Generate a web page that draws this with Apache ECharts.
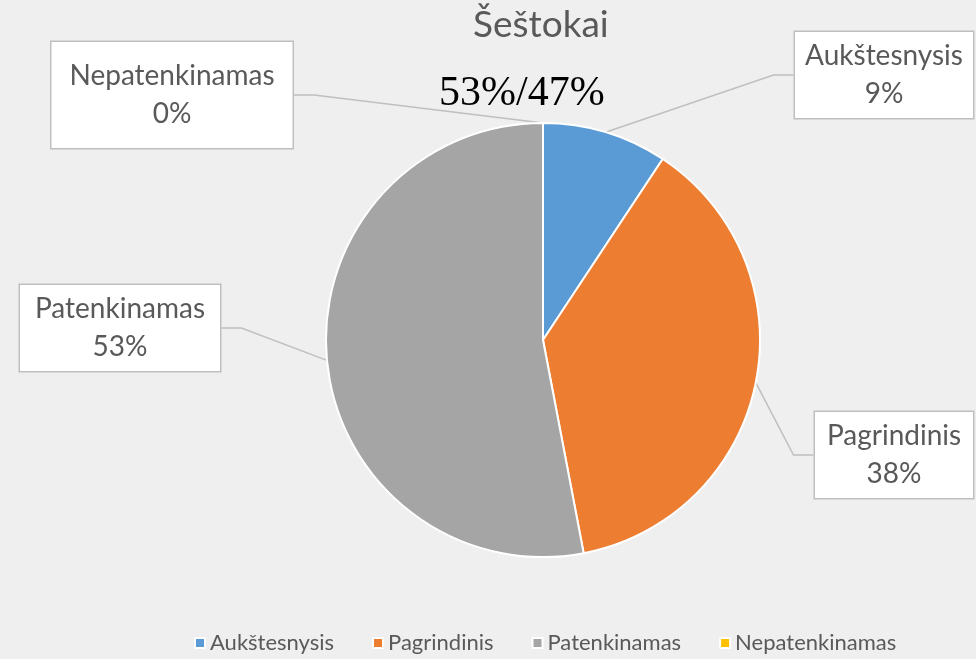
<!DOCTYPE html>
<html lang="lt">
<head>
<meta charset="UTF-8" />
<title>Šeštokai</title>
<style>
  html, body { margin: 0; padding: 0; background: #efefef; }
  #chart { width: 976px; height: 659px; }
</style>
</head>
<body>
<div id="chart"></div>
<script src="https://cdn.jsdelivr.net/npm/echarts@6/dist/echarts.min.js"></script>
<script>
// duomenys
var categories = ['Aukštesnysis', 'Pagrindinis', 'Patenkinamas', 'Nepatenkinamas'];
var values = [9.3, 37.7, 53.0, 0];
var colors = ['#5b9bd5', '#ed7d31', '#a5a5a5', '#ffc000'];
var titleText = 'Šeštokai';
var subText = '53%/47%';

// label boxes: [center x, center y, width, vertical padding]
var boxes = [
  [884, 75, 178, 5],
  [894, 455, 158, 5],
  [120, 328, 200, 5],
  [172, 95, 241, 15]
];

var chart = echarts.init(document.getElementById('chart'));

var pieData = categories.map(function (name, i) {
  return {
    name: name,
    value: values[i],
    itemStyle: { color: colors[i] },
    label: { width: boxes[i][2], padding: [boxes[i][3], 0] }
  };
});

chart.setOption({
  backgroundColor: '#efefef',
  textStyle: { fontFamily: 'Lato' },
  title: [
    {
      text: titleText,
      left: 468, top: 2,
      textStyle: { fontFamily: 'Lato', fontSize: 37, fontWeight: 'normal', color: '#595959' }
    },
    {
      text: subText,
      left: 434, top: 68,
      textStyle: { fontFamily: 'Liberation Serif', fontSize: 42, fontWeight: 'normal', color: '#000000' }
    }
  ],
  legend: {
    data: categories,
    bottom: 0,
    left: 189,
    icon: 'rect',
    itemWidth: 10,
    itemHeight: 10,
    itemGap: 38,
    textStyle: { fontFamily: 'Lato', fontSize: 22, color: '#595959' }
  },
  series: [{
    type: 'pie',
    center: [543, 340],
    radius: 217,
    startAngle: 90,
    clockwise: true,
    percentPrecision: 0,
    stillShowZeroSum: true,
    avoidLabelOverlap: false,
    itemStyle: { borderColor: '#ffffff', borderWidth: 2 },
    label: {
      show: true,
      position: 'outside',
      formatter: '{b}\n{d}%',
      fontFamily: 'Lato',
      fontSize: 28,
      lineHeight: 38,
      color: '#595959',
      align: 'center',
      backgroundColor: '#ffffff',
      borderColor: '#bfbfbf',
      borderWidth: 1.5
    },
    labelLine: {
      show: true,
      length: 20,
      length2: 20,
      lineStyle: { color: '#bfbfbf', width: 1.5 }
    },
    labelLayout: function (params) {
      var b = boxes[params.dataIndex];
      return { x: b[0], y: b[1], align: 'center', verticalAlign: 'middle', moveOverlap: null };
    },
    emphasis: { disabled: true },
    data: pieData
  }]
});
</script>
</body>
</html>
